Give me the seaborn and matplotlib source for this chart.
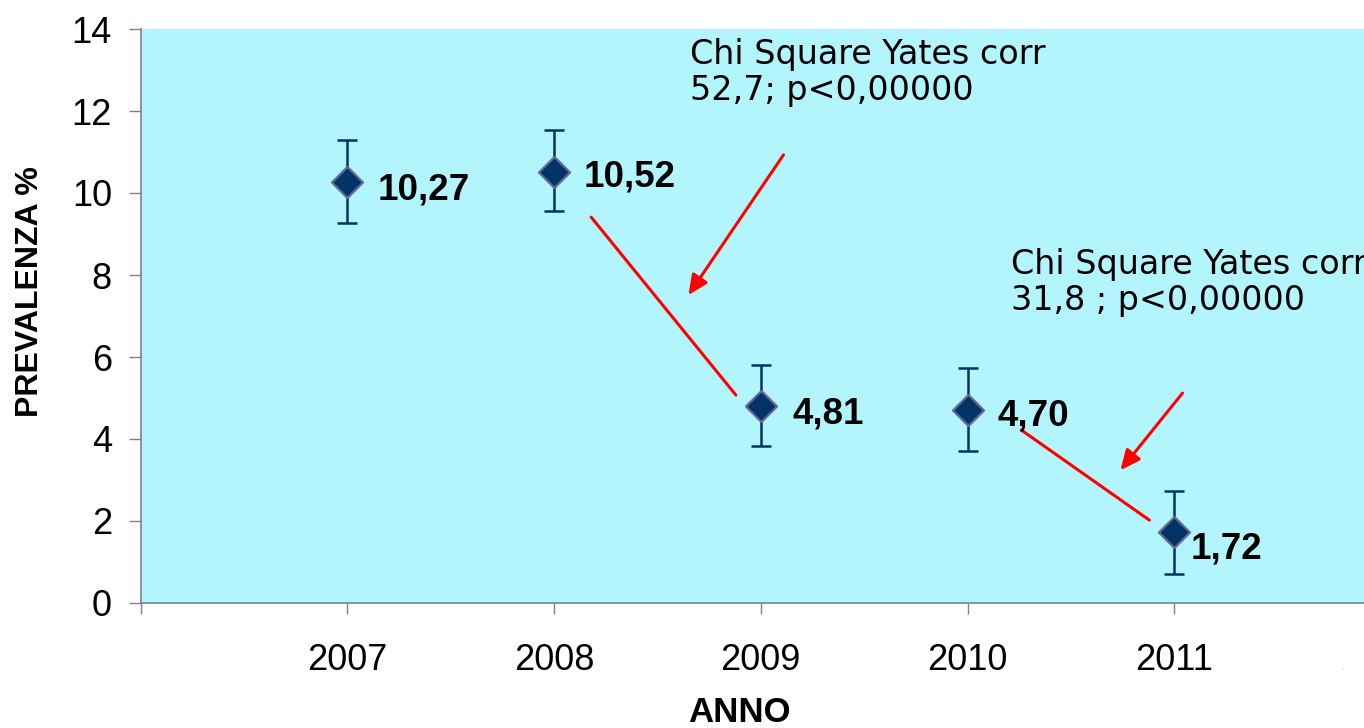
import numpy as np
import pandas as pd
import matplotlib
matplotlib.use('Agg')
import matplotlib.pyplot as plt
from matplotlib.transforms import Bbox
import seaborn as sns

# ============== dati ==============
anni = [2007, 2008, 2009, 2010, 2011]
prevalenza = [10.27, 10.52, 4.81, 4.70, 1.72]
ic_inf = [9.28, 9.56, 3.84, 3.71, 0.71]
ic_sup = [11.29, 11.53, 5.80, 5.73, 2.72]

tick_anni = [2006, 2007, 2008, 2009, 2010, 2011, 2012]
tick_labels = ['', '2007', '2008', '2009', '2010', '2011', '2012']

testo_chi1 = 'Chi Square Yates corr\n52,7; p<0,00000'
testo_chi2 = 'Chi Square Yates corr\n31,8 ; p<0,00000'

df = pd.DataFrame({'anno': anni, 'prevalenza': prevalenza,
                   'inf': ic_inf, 'sup': ic_sup})

# ============== stile ==============
sns.set_style('white')
plt.rcParams['font.family'] = ['Liberation Sans', 'DejaVu Sans']
plt.rcParams['text.color'] = 'black'
plt.rcParams['xtick.color'] = 'black'
plt.rcParams['ytick.color'] = 'black'

BG = '#B3F5FC'
NAVY = '#003366'
EDGE = '#666699'
GREY = '#808080'

fig = plt.figure(figsize=(13.64, 7.28), dpi=100)
ax = fig.add_axes([140.5 / 1364, 125 / 728, 1240.5 / 1364, 574 / 728])
ax.set_facecolor(BG)

# barre d'errore
ax.errorbar(df['anno'], df['prevalenza'],
            yerr=[df['prevalenza'] - df['inf'], df['sup'] - df['prevalenza']],
            fmt='none', ecolor=NAVY, elinewidth=1.8, capsize=7.5, capthick=1.8,
            zorder=2)

sns.scatterplot(data=df, x='anno', y='prevalenza', marker='D', s=250,
                color=NAVY, edgecolor=EDGE, linewidth=1.6, zorder=3, ax=ax,
                legend=False)

# etichette dei valori
dx = [21.6, 21.6, 23.0, 21.6, 11.5]
dy = [-12.5, -10.8, -12.5, -10.8, -18.8]
for i, (a, v) in enumerate(zip(anni, prevalenza)):
    ax.annotate(f'{v:.2f}'.replace('.', ','), (a, v), xytext=(dx[i], dy[i]),
                textcoords='offset points', ha='left', va='baseline',
                fontsize=26.5, fontweight='bold', color='black', zorder=4)

# frecce e linee rosse
RED = '#FF0000'
ax.plot([2008.18, 2008.88], [9.41, 5.07], color=RED, lw=2.2, zorder=1)
ax.plot([2010.26, 2010.88], [4.22, 2.02], color=RED, lw=2.2, zorder=1)
for (x0, y0), (x1, y1) in [((2009.11, 10.93), (2008.65, 7.51)),
                           ((2011.04, 5.12), (2010.74, 3.24))]:
    ax.annotate('', xy=(x1, y1), xytext=(x0, y0),
                arrowprops=dict(arrowstyle='-|>,head_length=1.2,head_width=0.55',
                                color=RED, lw=2.2, shrinkA=0, shrinkB=0),
                zorder=1)

ax.text(2008.66, 13.78, testo_chi1, ha='left', va='top', fontsize=24,
        family=['DejaVu Sans'], color='black', linespacing=1.12)
ax.text(2010.21, 8.65, testo_chi2, ha='left', va='top', fontsize=24,
        family=['DejaVu Sans'], color='black', linespacing=1.12)

# assi
ax.set_xlim(2006, 2012)
ax.set_ylim(0, 14)
ax.set_yticks(np.arange(0, 15, 2))
ax.set_xticks(tick_anni)
ax.set_xticklabels(tick_labels)
ax.tick_params(axis='y', direction='out', length=8.6, width=1, color=GREY,
               labelcolor='black', labelsize=26, pad=12, left=True)
ax.tick_params(axis='x', direction='out', length=8, width=1, color=GREY,
               labelcolor='black', labelsize=26, pad=21, bottom=True)
ax.set_xlabel('')
ax.set_ylabel('')
for s in ['top', 'right']:
    ax.spines[s].set_visible(False)
for s in ['left', 'bottom']:
    ax.spines[s].set_color(GREY)
    ax.spines[s].set_linewidth(1.2)

# l'etichetta 2012 è tagliata dal bordo del grafico
clip = Bbox.from_extents(0, 0, 1344, 728)
for lab in ax.get_xticklabels():
    lab.set_clip_on(True)
    lab.set_clip_box(clip)

fig.text(30 / 1364, 1 - 292 / 728, 'PREVALENZA %', rotation=90, ha='center',
         va='center', fontsize=23, fontweight='bold')
fig.text(739 / 1364, 16 / 728, 'ANNO', ha='center', va='center',
         fontsize=25, fontweight='bold')

fig.savefig('out.png', dpi=100)
